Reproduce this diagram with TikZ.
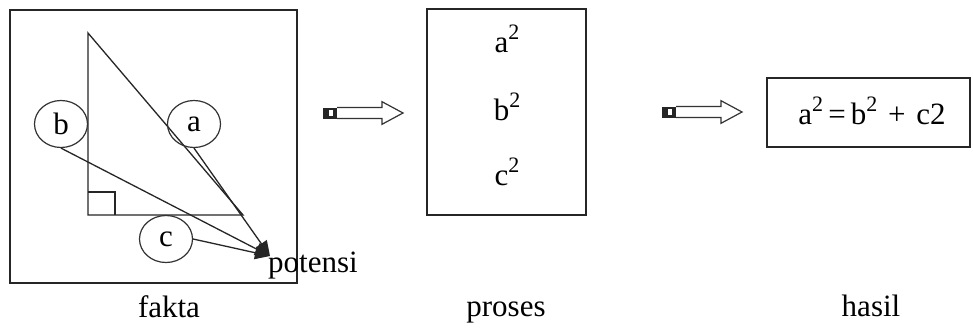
\documentclass[tikz,border=0pt]{standalone}
\usepackage{fontspec}
\setmainfont{Liberation Serif}
\usetikzlibrary{arrows.meta,shapes.geometric}
\newcommand\sqr[1]{#1\raisebox{.42em}{\fontsize{22}{22}\selectfont 2}}
\tikzset{
  blockarrow/.pic={
    \fill[black!85] (0,-5.5) rectangle (14,5.5);
    \fill[white] (6,-3) rectangle (10,3);
    \draw[black!80,line width=1.2pt,fill=white,line join=miter]
      (14,-5.5) -- (59,-5.5) -- (59,-11.3) -- (80,0) -- (59,11.3) -- (59,5.5) -- (14,5.5);
  }
}
\begin{document}
\begin{tikzpicture}[x=1pt,y=-1pt,font=\fontsize{31}{36}\selectfont,
  box/.style={draw=black!85,line width=1.8pt,inner sep=0pt},
  oval/.style={draw=black!80,ellipse,line width=1.2pt,minimum width=53pt,minimum height=47pt,inner sep=0pt},
  thin/.style={draw=black!85,line width=1.3pt},
  conn/.style={thin,-{Triangle[length=15pt,width=13pt]}},
  lbl/.style={inner sep=0pt,anchor=base}]
\useasboundingbox[fill=white] (0,0) rectangle (973,327);

% boxes
\node[box,minimum width=287pt,minimum height=273pt] (fbox) at (153.5,146.5) {};
\node[box,minimum width=159pt,minimum height=206pt] (pbox) at (506.5,112) {};
\node[box,minimum width=203pt,minimum height=69pt] (hbox) at (868.5,112.5) {};

% triangle
\coordinate (t1) at (88,33);
\coordinate (t2) at (88,215);
\coordinate (t3) at (243,215);
\draw[thin] (t1) -- (t2) -- (t3) -- cycle;
\draw[thin] (88,192) -- (115,192) -- (115,215);

% ovals
\node[oval] (b) at (61,124) {b};
\node[oval] (a) at (194,124) {a};
\node[oval] (c) at (166,239) {c};

\coordinate (p) at (270,256);
\draw[conn] (b.south) -- (p);
\draw[conn] (a.south) -- (p);
\draw[conn] (c.east) -- (p);
\node[inner sep=0pt,anchor=base west] (pot) at (268,272) {potensi};

% block arrows
\pic at (323,113) {blockarrow};
\pic at (662,112) {blockarrow};

% process texts
\node[inner sep=0pt] (a2) at (507,39) {\sqr{a}};
\node[inner sep=0pt] (b2) at (507,107) {\sqr{b}};
\node[inner sep=0pt] (c2) at (507,172) {\sqr{c}};

% result
\node[inner sep=0pt] (res) at (872,111) {\sqr{a}\,=\,\sqr{b}\hspace{3pt} +\hspace{3pt} c2};

% labels
\node[lbl] (fakta) at (169,317) {fakta};
\node[lbl] (proses) at (506,316) {proses};
\node[lbl] (hasil) at (871,316) {hasil};
\end{tikzpicture}
\end{document}
